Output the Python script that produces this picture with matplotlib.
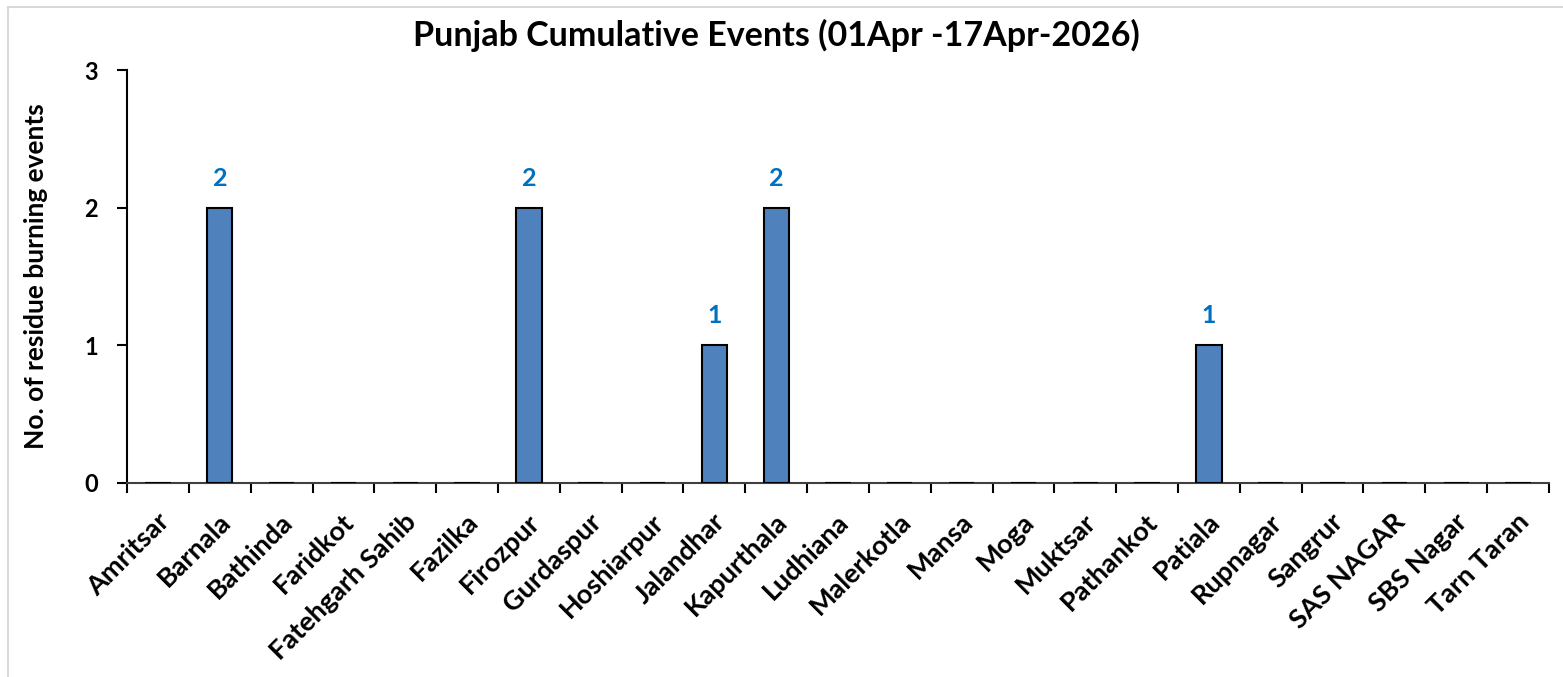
import matplotlib.pyplot as plt
import numpy as np

districts = ['Amritsar', 'Barnala', 'Bathinda', 'Faridkot', 'Fatehgarh Sahib',
             'Fazilka', 'Firozpur', 'Gurdaspur', 'Hoshiarpur', 'Jalandhar',
             'Kapurthala', 'Ludhiana', 'Malerkotla', 'Mansa', 'Moga', 'Muktsar',
             'Pathankot', 'Patiala', 'Rupnagar', 'Sangrur', 'SAS NAGAR',
             'SBS Nagar', 'Tarn Taran']
events = [0, 2, 0, 0, 0, 0, 2, 0, 0, 1, 2, 0, 0, 0, 0, 0, 0, 1, 0, 0, 0, 0, 0]

plt.rcParams['font.family'] = ['Lato', 'DejaVu Sans']
plt.rcParams['font.weight'] = 'bold'

fig = plt.figure(figsize=(15.63, 6.77), dpi=100)
ax = fig.add_axes([0.0813, 0.2866, 0.9097, 0.61])

x = np.arange(len(districts))
ax.bar(x, events, width=0.41, color='#4F81BD', edgecolor='black', linewidth=1.5, zorder=3)

for xi, v in zip(x, events):
    if v > 0:
        ax.annotate(str(v), xy=(xi, v), xytext=(0, 13), textcoords='offset points',
                    ha='center', va='bottom', color='#0070C0',
                    fontsize=18, fontweight='bold')

ax.set_xlim(-0.5, len(districts) - 0.5)
ax.set_ylim(0, 3)
ax.set_yticks([0, 1, 2, 3])
ax.tick_params(axis='y', labelsize=17, length=7, width=1.5, direction='out', pad=14)

# ticks sit between categories, names are placed by hand at 45 degrees
ax.set_xticks(np.arange(-0.5, len(districts), 1.0))
ax.set_xticklabels([])
ax.tick_params(axis='x', length=7, width=1.5, direction='out')
for xi, name in zip(x, districts):
    ax.annotate(name, xy=(xi, 0), xycoords=('data', 'axes fraction'),
                xytext=(5, -25), textcoords='offset points',
                rotation=45, ha='right', va='center', rotation_mode='anchor',
                fontsize=19.5, fontweight='bold')

for s in ['top', 'right']:
    ax.spines[s].set_visible(False)
ax.spines['left'].set_linewidth(1.5)
ax.spines['bottom'].set_linewidth(1.5)
ax.spines['bottom'].set_color('#404040')

ax.set_ylabel('No. of residue burning events', fontsize=19, fontweight='bold')
ax.yaxis.set_label_coords(-0.0556, 0.5)

fig.text(0.4965, 0.932, 'Punjab Cumulative Events (01Apr -17Apr-2026)',
         ha='center', va='baseline', fontsize=24.5, fontweight='bold')

border = plt.Rectangle((0.005, -0.1), 1.2, 1.0897, transform=fig.transFigure,
                       fill=False, edgecolor='#D9D9D9', linewidth=1.5)
fig.patches.append(border)

fig.savefig('out.png', dpi=100)
